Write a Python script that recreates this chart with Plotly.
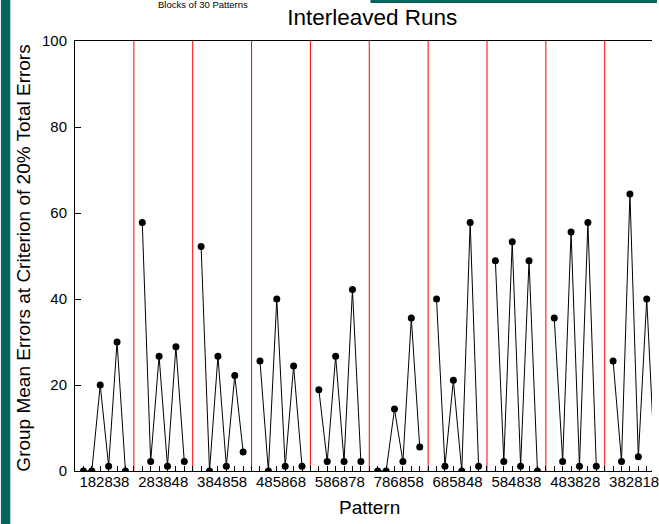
import plotly.graph_objects as go

block_labels = ["182838", "283848", "384858", "485868", "586878",
                "786858", "685848", "584838", "483828", "382818"]

block_values = [
    [0.0, 0.0, 20.0, 1.1, 30.0, 0.0],
    [57.8, 2.2, 26.7, 1.1, 28.9, 2.2],
    [52.2, 0.0, 26.7, 1.1, 22.2, 4.4],
    [25.6, 0.0, 40.0, 1.1, 24.4, 1.1],
    [18.9, 2.2, 26.7, 2.2, 42.2, 2.2],
    [0.0, 0.0, 14.4, 2.2, 35.6, 5.6],
    [40.0, 1.1, 21.1, 0.0, 57.8, 1.1],
    [48.9, 2.2, 53.3, 1.1, 48.9, 0.0],
    [35.6, 2.2, 55.6, 1.1, 57.8, 1.1],
    [25.6, 2.2, 64.4, 3.3, 40.0, 0.0],
]

W, H = 659, 524
ML, MT, MB = 75, 41, 53
slot = 7  # 6 patterns + 1 gap per block
px_per_unit = 8.51
plot_w = W - ML
xmax = plot_w / px_per_unit
full_span = slot * len(block_labels)

xs, ys = [], []
for b, vals in enumerate(block_values):
    for i, v in enumerate(vals):
        xs.append(b * slot + 1 + i)
        ys.append(v)
    xs.append(None)
    ys.append(None)

teal = "#00665f"
font = "Liberation Sans, Arial, sans-serif"

fig = go.Figure()
fig.add_trace(go.Scatter(
    x=xs, y=ys, mode="lines+markers", connectgaps=False,
    line=dict(color="black", width=1),
    marker=dict(color="black", size=7),
    showlegend=False, hoverinfo="skip",
))
# invisible trace on second axis to carry block labels
fig.add_trace(go.Scatter(x=[b * slot + slot / 2 for b in range(len(block_labels))],
                         y=[None] * len(block_labels), xaxis="x2", showlegend=False))

shapes = []
for b in range(1, len(block_labels) + 1):
    shapes.append(dict(type="line", xref="x", yref="paper", x0=b * slot, x1=b * slot,
                       y0=0, y1=1, line=dict(color="red", width=1), layer="below"))

plot_h = H - MT - MB
def py(pix):
    return 1 + (MT - pix) / plot_h
def pxp(pix):
    return (pix - ML) / plot_w

shapes.append(dict(type="rect", xref="paper", yref="paper", x0=pxp(0), x1=pxp(9.5),
                   y0=py(H), y1=py(0), fillcolor=teal, line=dict(width=0)))
shapes.append(dict(type="rect", xref="paper", yref="paper", x0=pxp(374), x1=pxp(W + 5),
                   y0=py(3), y1=py(0), fillcolor=teal, line=dict(width=0)))

center_paper = (full_span / 2) / xmax

fig.update_layout(
    width=W, height=H,
    margin=dict(l=ML, r=0, t=MT, b=MB, pad=0),
    paper_bgcolor="white", plot_bgcolor="white",
    font=dict(family=font, color="black", size=15),
    title=dict(text="Interleaved Runs", x=center_paper + 3 / plot_w, xref="paper", xanchor="center",
               y=1 - 17 / H, yref="container", yanchor="middle",
               font=dict(size=22.5, family=font, color="black")),
    xaxis=dict(range=[0, xmax], showline=True, linecolor="black", linewidth=1, mirror=True,
               ticks="inside", ticklen=5, tickcolor="black", tickvals=list(range(0, full_span + 1)),
               showticklabels=False, showgrid=False, zeroline=False),
    xaxis2=dict(range=[0, xmax], overlaying="x", side="bottom", matches="x",
                tickvals=[b * slot + slot / 2 for b in range(len(block_labels))],
                ticktext=block_labels, ticks="", showline=False, showgrid=False,
                zeroline=False, tickfont=dict(size=15, family=font),
                ticklabeloverflow="allow"),
    yaxis=dict(range=[0, 100], tickvals=[0, 20, 40, 60, 80, 100], ticks="inside", ticklen=6,
               tickcolor="black", showline=True, linecolor="black", linewidth=1,
               showgrid=False, zeroline=False, tickfont=dict(size=15, family=font),
               ticklabelstandoff=4),
    shapes=shapes,
    annotations=[
        dict(text="Blocks of 30 Patterns", xref="paper", yref="paper", x=pxp(157), y=py(4.5),
             xanchor="left", yanchor="middle", showarrow=False,
             font=dict(size=9.5, family=font, color="black")),
        dict(text="Pattern", xref="paper", yref="paper", x=center_paper, y=py(507),
             xanchor="center", yanchor="middle", showarrow=False,
             font=dict(size=19, family=font, color="black")),
        dict(text="Group Mean Errors at Criterion of 20% Total Errors", xref="paper", yref="paper",
             x=pxp(22), y=py(258), xanchor="center", yanchor="middle", textangle=-90,
             showarrow=False, font=dict(size=19, family=font, color="black")),
    ],
)

fig.write_html("out.html", config={"displayModeBar": False},
               post_script="document.body.style.margin='0px';")
